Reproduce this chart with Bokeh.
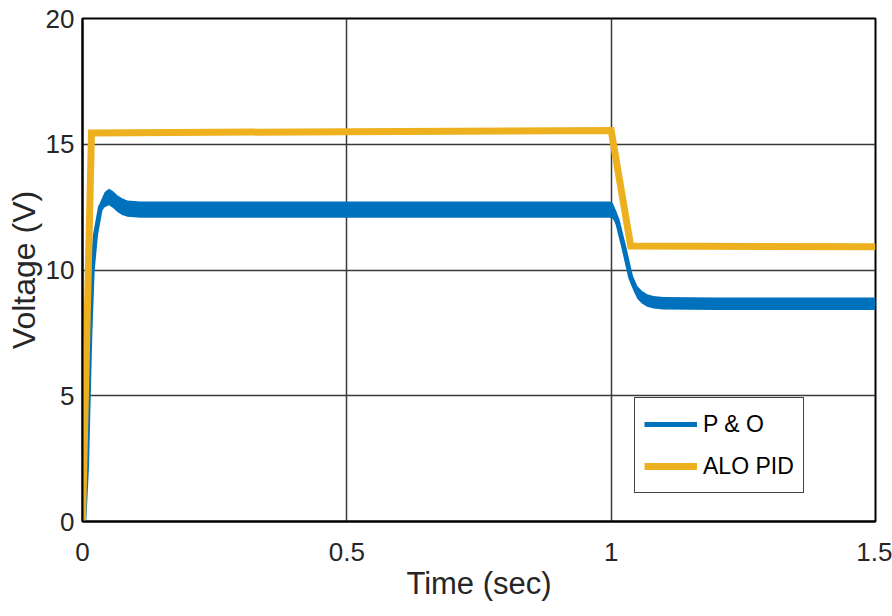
from bokeh.plotting import figure
from bokeh.models import Range1d, FixedTicker, Legend, LegendItem, ColumnDataSource
from bokeh.embed import file_html
from bokeh.resources import INLINE

# ALO PID output voltage
time_pid = [0.0, 0.017, 0.5, 1.0, 1.037, 1.5]
volt_pid = [0.0, 15.45, 15.5, 15.55, 10.95, 10.92]

# P & O output voltage (mean) and ripple (peak-to-peak)
time_po = [0.0, 0.0025, 0.0076, 0.0107, 0.0139, 0.0183, 0.0246, 0.034, 0.042, 0.050,
           0.058, 0.066, 0.075, 0.085, 0.11, 0.2, 0.5, 0.8, 0.998, 1.003, 1.011,
           1.024, 1.037, 1.049, 1.058, 1.068, 1.08, 1.099, 1.2, 1.5]
volt_po = [0.0, 0.04, 2.16, 4.81, 7.47, 9.98, 11.4, 12.5, 12.8, 12.9,
           12.8, 12.64, 12.52, 12.44, 12.4, 12.4, 12.4, 12.4, 12.4, 12.35, 12.0,
           10.9, 9.7, 9.12, 8.92, 8.79, 8.72, 8.68, 8.66, 8.66]
ripple_po = [0.0, 0.0, 0.0, 0.0, 0.0, 0.0, 0.1, 0.45, 0.6, 0.66,
             0.66, 0.66, 0.66, 0.65, 0.65, 0.65, 0.65, 0.65, 0.65, 0.62, 0.55,
             0.5, 0.5, 0.5, 0.5, 0.5, 0.5, 0.5, 0.5, 0.5]

x_ticks = [0, 0.5, 1, 1.5]
y_ticks = [0, 5, 10, 15, 20]

BLUE = "#0072BD"
ORANGE = "#EDB120"
FONT = "Liberation Sans"
TXT = "#262626"

src_po = ColumnDataSource(dict(
    t=time_po, v=volt_po,
    lo=[v - r / 2 for v, r in zip(volt_po, ripple_po)],
    hi=[v + r / 2 for v, r in zip(volt_po, ripple_po)],
))
src_pid = ColumnDataSource(dict(t=time_pid, v=volt_pid))

p = figure(width=892, height=616, output_backend="svg", toolbar_location=None,
           x_range=Range1d(0, 1.5), y_range=Range1d(0, 20),
           min_border_left=82, min_border_right=17, min_border_top=18, min_border_bottom=95)

p.varea(x="t", y1="lo", y2="hi", source=src_po, fill_color=BLUE)
r_po = p.line(x="t", y="v", source=src_po, line_color=BLUE, line_width=5, line_join="round")
r_pid = p.line(x="t", y="v", source=src_pid, line_color=ORANGE, line_width=7, line_join="miter")

p.xaxis.ticker = FixedTicker(ticks=x_ticks)
p.yaxis.ticker = FixedTicker(ticks=y_ticks)
p.xaxis.major_label_overrides = {0: "0", 0.5: "0.5", 1: "1", 1.5: "1.5"}

for ax in (p.xaxis, p.yaxis):
    ax.axis_line_color = "black"
    ax.axis_line_width = 2
    ax.major_tick_in = 0
    ax.major_tick_out = 0
    ax.minor_tick_line_color = None
    ax.major_label_text_font = FONT
    ax.major_label_text_font_size = "26px"
    ax.major_label_text_color = TXT
    ax.axis_label_text_font = FONT
    ax.axis_label_text_font_style = "normal"
    ax.axis_label_text_color = TXT

p.xaxis.axis_label = "Time (sec)"
p.xaxis.axis_label_text_font_size = "31px"
p.xaxis.major_label_standoff = 21
p.xaxis.axis_label_standoff = 2
p.yaxis.axis_label = "Voltage (V)"
p.yaxis.axis_label_text_font_size = "32px"
p.yaxis.major_label_standoff = 8
p.yaxis.axis_label_standoff = 1

p.xgrid.grid_line_color = "#3a3a3a"
p.ygrid.grid_line_color = "#3a3a3a"
p.xgrid.grid_line_width = 1.5
p.ygrid.grid_line_width = 1.5

p.outline_line_color = "black"
p.outline_line_width = 2
p.background_fill_color = "white"
p.border_fill_color = "white"

legend = Legend(items=[LegendItem(label="P & O", renderers=[r_po]),
                       LegendItem(label="ALO PID", renderers=[r_pid])],
                location=(552, 28))
legend.label_text_font = FONT
legend.label_text_font_size = "23px"
legend.label_text_color = "black"
legend.glyph_width = 53
legend.glyph_height = 34
legend.label_height = 34
legend.label_standoff = 6
legend.spacing = 8
legend.padding = 9
legend.margin = 0
legend.border_line_color = "#444444"
legend.border_line_alpha = 1
legend.border_line_width = 1.5
legend.background_fill_color = "white"
legend.background_fill_alpha = 1
p.add_layout(legend, "center")

open("out.html", "w").write(file_html(p, INLINE))
